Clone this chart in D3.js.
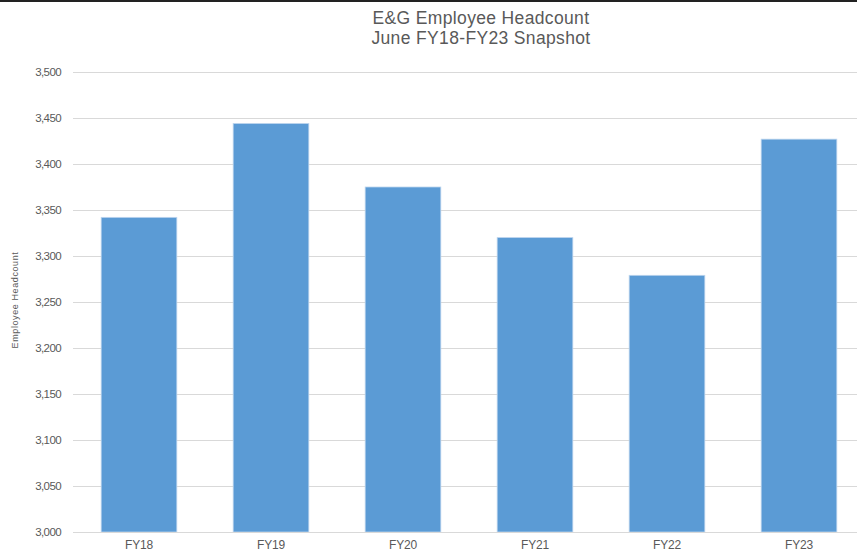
<!DOCTYPE html>
<html>
<head>
<meta charset="utf-8">
<script src="https://cdn.jsdelivr.net/npm/d3@7"></script>
<style>
  body { margin: 0; background: #fff; }
  svg { display: block; font-family: "Liberation Sans", Arial, sans-serif; }
</style>
</head>
<body>
<div id="chart"></div>
<script>
// headcount, june snapshot
var years = ["FY18", "FY19", "FY20", "FY21", "FY22", "FY23"];
var headcount = [3342, 3444, 3375, 3320, 3279, 3427];
var yTicks = [3000, 3050, 3100, 3150, 3200, 3250, 3300, 3350, 3400, 3450, 3500];
var titleLines = ["E&G Employee Headcount", "June FY18-FY23 Snapshot"];

var width = 857, height = 555;
var margin = {top: 72, right: -8, bottom: 23, left: 73};

var svg = d3.select("#chart").append("svg")
    .attr("width", width)
    .attr("height", height);

// thin dark rule along the top edge
svg.append("rect")
    .attr("x", 0).attr("y", 0)
    .attr("width", width).attr("height", 2)
    .attr("fill", "#222");

var x = d3.scaleBand()
    .domain(years)
    .range([margin.left, width - margin.right])
    .paddingInner(0.427)
    .paddingOuter(0.2135);

var y = d3.scaleLinear()
    .domain([3000, 3500])
    .range([height - margin.bottom, margin.top]);

// gridlines
svg.append("g")
    .selectAll("line")
    .data(yTicks)
    .enter().append("line")
    .attr("x1", margin.left)
    .attr("x2", width)
    .attr("y1", function(d) { return Math.round(y(d)) + 0.5; })
    .attr("y2", function(d) { return Math.round(y(d)) + 0.5; })
    .attr("stroke", "#d9d9d9")
    .attr("stroke-width", 1);

// y axis labels
var fmt = d3.format(",");
svg.append("g")
    .selectAll("text")
    .data(yTicks)
    .enter().append("text")
    .attr("x", 61)
    .attr("y", function(d) { return y(d); })
    .attr("dy", "0.35em")
    .attr("text-anchor", "end")
    .attr("fill", "#595959")
    .style("font-size", "11.5px")
    .style("letter-spacing", "-0.6px")
    .text(function(d) { return fmt(d); });

// bars
svg.append("g")
    .selectAll("rect")
    .data(headcount)
    .enter().append("rect")
    .attr("x", function(d, i) { return x(years[i]); })
    .attr("y", function(d) { return y(d); })
    .attr("width", x.bandwidth())
    .attr("height", function(d) { return y(3000) - y(d); })
    .attr("fill", "#5b9bd5")
    .attr("stroke", "#bcd4ee")
    .attr("stroke-width", 0.8);

// baseline
svg.append("line")
    .attr("x1", margin.left).attr("x2", width)
    .attr("y1", Math.round(y(3000)) + 0.5)
    .attr("y2", Math.round(y(3000)) + 0.5)
    .attr("stroke", "#d9d9d9");

// x labels
svg.append("g")
    .selectAll("text")
    .data(years)
    .enter().append("text")
    .attr("x", function(d) { return x(d) + x.bandwidth() / 2; })
    .attr("y", 549)
    .attr("text-anchor", "middle")
    .attr("fill", "#595959")
    .style("font-size", "12px")
    .style("letter-spacing", "-0.2px")
    .text(function(d) { return d; });

// y axis title
svg.append("text")
    .attr("transform", "translate(18,300) rotate(-90)")
    .attr("text-anchor", "middle")
    .attr("fill", "#595959")
    .style("font-size", "9px")
    .style("letter-spacing", "0.6px")
    .text("Employee Headcount");

// title
svg.append("g")
    .selectAll("text")
    .data(titleLines)
    .enter().append("text")
    .attr("x", 481)
    .attr("y", function(d, i) { return 23.5 + i * 20.5; })
    .attr("text-anchor", "middle")
    .attr("fill", "#595959")
    .style("font-size", "17.5px")
    .style("letter-spacing", "0.35px")
    .text(function(d) { return d; });
</script>
</body>
</html>
